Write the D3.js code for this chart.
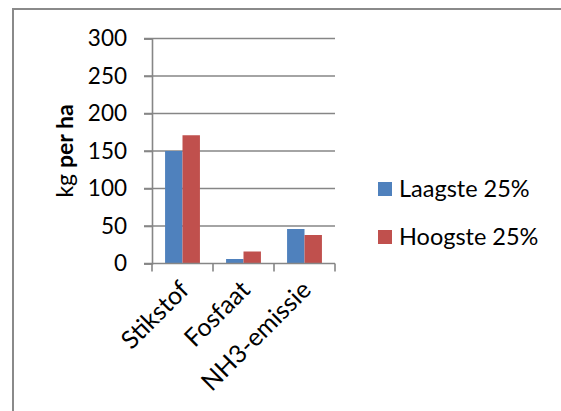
<!DOCTYPE html>
<html>
<head>
<meta charset="utf-8">
<script src="https://cdn.jsdelivr.net/npm/d3@7"></script>
<style>
  html, body { margin: 0; padding: 0; background: #fff; }
  svg { display: block; font-family: Lato, "Open Sans", sans-serif; }
</style>
</head>
<body>
<svg id="chart" width="561" height="411"></svg>
<script>
// Nutrient balance per hectare, lowest vs highest quartile
const categories = ["Stikstof", "Fosfaat", "NH3-emissie"];
const seriesNames = ["Laagste 25%", "Hoogste 25%"];
const laagste = [150, 6, 46];
const hoogste = [171, 16, 38];
const yTicks = [0, 50, 100, 150, 200, 250, 300];
const colors = ["#4F81BD", "#C0504D"];
const yTitleNormal = "kg ";
const yTitleBold = "per ha";

const svg = d3.select("#chart");
const gridColor = "#868686";

// outer chart frame (continues past right and bottom edges)
svg.append("rect")
  .attr("x", 13).attr("y", 9)
  .attr("width", 700).attr("height", 600)
  .attr("fill", "none")
  .attr("stroke", "#8a8a8a")
  .attr("stroke-width", 2);

const plot = { left: 152, right: 335, top: 38.5, bottom: 263.5 };

const y = d3.scaleLinear().domain([0, 300]).range([plot.bottom, plot.top]);
const x = d3.scaleBand().domain(categories).range([plot.left, plot.right]).padding(0);
const barW = x.bandwidth() / 3.5;
const x1 = d3.scaleBand().domain(seriesNames)
  .range([(x.bandwidth() - 2 * barW) / 2, (x.bandwidth() + 2 * barW) / 2]).padding(0);

// gridlines
svg.append("g")
  .selectAll("line")
  .data(yTicks.filter(t => t > 0))
  .join("line")
  .attr("x1", plot.left - 8).attr("x2", plot.right)
  .attr("y1", d => y(d)).attr("y2", d => y(d))
  .attr("stroke", gridColor).attr("stroke-width", 1.6);

// bars
const rows = categories.map((c, i) => ({ cat: c, vals: [laagste[i], hoogste[i]] }));
svg.append("g")
  .selectAll("g")
  .data(rows)
  .join("g")
  .attr("transform", d => `translate(${x(d.cat)},0)`)
  .selectAll("rect")
  .data(d => d.vals.map((v, j) => ({ name: seriesNames[j], v, j })))
  .join("rect")
  .attr("x", d => x1(d.name))
  .attr("width", x1.bandwidth())
  .attr("y", d => y(d.v))
  .attr("height", d => y(0) - y(d.v))
  .attr("fill", d => colors[d.j]);

// y axis
const yAxis = d3.axisLeft(y).tickValues(yTicks).tickSize(8).tickPadding(17);
const gy = svg.append("g").attr("transform", `translate(${plot.left},0)`).call(yAxis);
gy.select(".domain").attr("stroke", gridColor).attr("stroke-width", 1.6);
gy.selectAll(".tick line").attr("stroke", gridColor).attr("stroke-width", 1.6);
gy.selectAll(".tick text")
  .attr("font-family", "Lato, sans-serif")
  .attr("font-size", 22.5)
  .attr("fill", "#000");

// x axis with ticks at category boundaries
const xAxisLine = svg.append("g");
xAxisLine.append("line")
  .attr("x1", plot.left - 8).attr("x2", plot.right)
  .attr("y1", y(0)).attr("y2", y(0))
  .attr("stroke", gridColor).attr("stroke-width", 1.6);
const bounds = categories.map(c => x(c)).concat([x.range()[1]]);
xAxisLine.selectAll("line.tk")
  .data(bounds)
  .join("line")
  .attr("class", "tk")
  .attr("x1", d => d).attr("x2", d => d)
  .attr("y1", y(0)).attr("y2", y(0) + 8)
  .attr("stroke", gridColor).attr("stroke-width", 1.6);

// category labels, rotated
svg.append("g")
  .selectAll("text")
  .data(categories)
  .join("text")
  .attr("transform", d => `translate(${x(d) + x.bandwidth() / 2 + 8},${y(0) + 28}) rotate(-45)`)
  .attr("text-anchor", "end")
  .attr("font-size", 25)
  .attr("fill", "#000")
  .text(d => d);

// y axis title
const yt = svg.append("text")
  .attr("transform", `translate(73,151) rotate(-90)`)
  .attr("text-anchor", "middle")
  .attr("font-size", 23)
  .attr("fill", "#000");
yt.append("tspan").text(yTitleNormal);
yt.append("tspan").attr("font-weight", "bold").text(yTitleBold);

// legend
const legend = svg.append("g")
  .selectAll("g")
  .data(seriesNames)
  .join("g")
  .attr("transform", (d, i) => `translate(378,${182 + i * 48})`);
legend.append("rect")
  .attr("width", 14).attr("height", 14)
  .attr("fill", (d, i) => colors[i]);
legend.append("text")
  .attr("x", 21).attr("y", 7)
  .attr("dy", "0.35em")
  .attr("font-size", 23.5)
  .attr("fill", "#000")
  .text(d => d);
</script>
</body>
</html>
